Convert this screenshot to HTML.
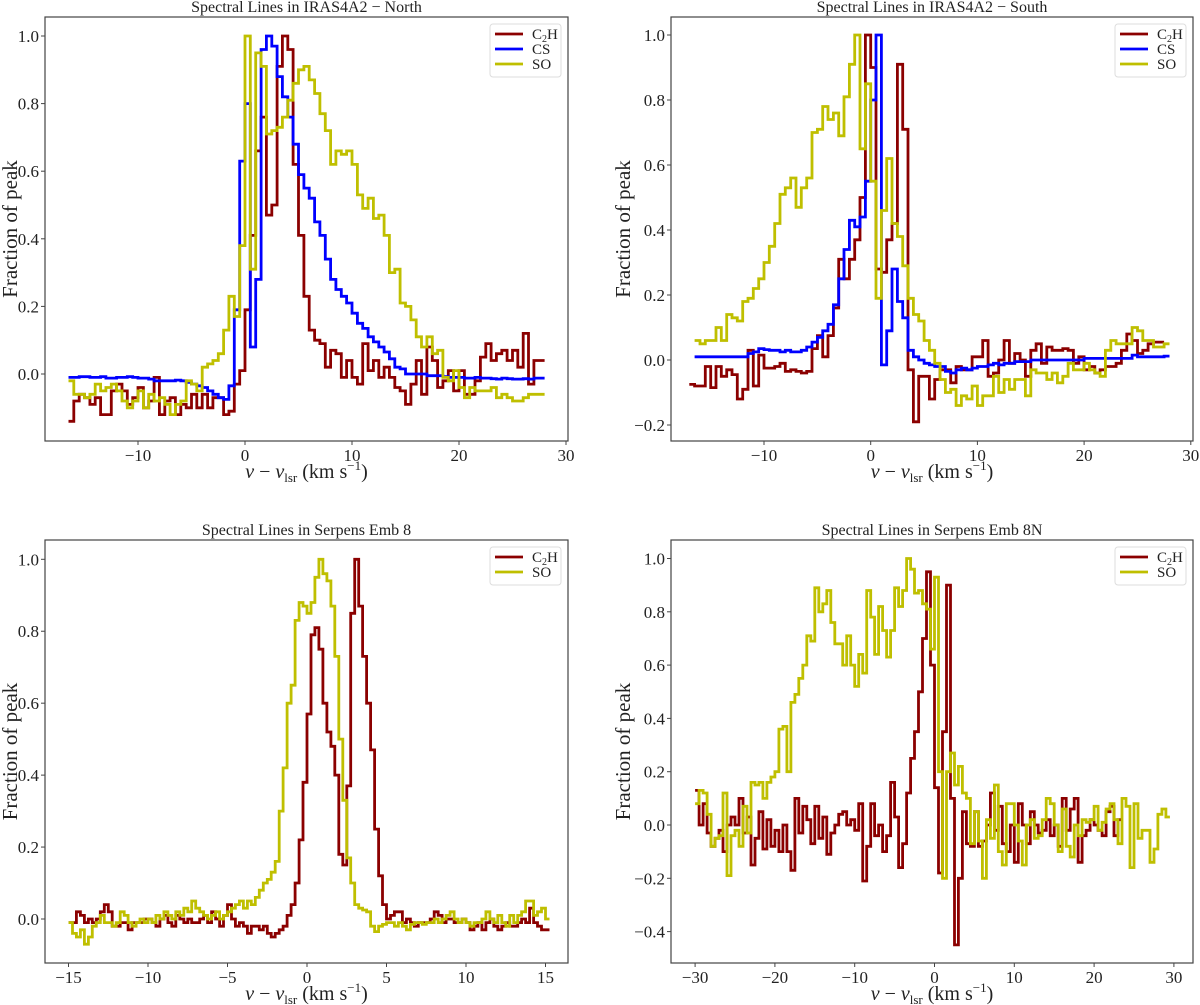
<!DOCTYPE html>
<html><head><meta charset="utf-8"><style>
html,body{margin:0;padding:0;background:#fff;}
svg{display:block;font-family:"Liberation Serif","DejaVu Serif",serif;}
</style></head>
<body>
<svg id="fig" width="1200" height="1005" viewBox="0 0 1200 1005" xmlns="http://www.w3.org/2000/svg"></svg>
<script>
// ---------- Panel 1: IRAS4A2 North (bins 0.5 km/s from -16.5) ----------
const p1C2H = [-0.14,-0.08,-0.06,-0.07,-0.09,-0.07,-0.12,-0.12,-0.05,-0.03,-0.05,-0.09,-0.07,-0.04,-0.1,-0.08,-0.01,-0.12,-0.08,-0.07,-0.12,-0.09,-0.1,-0.06,-0.1,-0.06,-0.1,-0.07,-0.07,-0.12,-0.11,-0.03,0.01,0.19,0.41,0.66,0.76,0.47,0.5,0.91,1.0,0.96,0.62,0.41,0.23,0.13,0.1,0.09,0.02,0.07,0.06,-0.01,0.04,-0.01,-0.03,0.09,0.01,0.04,-0.01,0.02,-0.01,-0.04,-0.05,-0.09,-0.03,0.04,-0.06,0.08,0.04,-0.04,-0.02,0.01,-0.05,0.01,-0.06,-0.06,-0.02,0.05,0.09,0.04,0.06,0.07,0.04,0.07,0.02,0.12,-0.03,0.04,0.04];
const p1CS = [-0.01,-0.01,-0.008,-0.008,-0.01,-0.01,-0.008,-0.012,-0.012,-0.01,-0.01,-0.008,-0.01,-0.012,-0.012,-0.015,-0.02,-0.02,-0.02,-0.02,-0.018,-0.02,-0.025,-0.03,-0.035,-0.04,-0.05,-0.06,-0.07,-0.075,-0.035,0.19,0.63,0.8,0.08,0.28,0.96,1.0,0.97,0.88,0.82,0.76,0.68,0.59,0.55,0.52,0.45,0.41,0.34,0.28,0.25,0.23,0.21,0.18,0.15,0.135,0.11,0.095,0.08,0.065,0.045,0.02,0.015,0.0,0.0,0.0,0.0,-0.005,-0.005,-0.005,-0.008,-0.01,-0.01,-0.01,-0.012,-0.012,-0.01,-0.012,-0.012,-0.014,-0.015,-0.012,-0.014,-0.015,-0.015,-0.014,-0.015,-0.012,-0.012];
const p1SO = [-0.02,-0.06,-0.06,-0.07,-0.06,-0.03,-0.05,-0.04,-0.03,-0.05,-0.08,-0.1,-0.08,-0.05,-0.1,-0.06,-0.08,-0.07,-0.09,-0.12,-0.09,-0.08,-0.02,-0.03,-0.05,0.02,0.03,0.04,0.06,0.13,0.23,0.17,0.38,1.0,0.31,0.95,0.91,0.71,0.72,0.73,0.76,0.81,0.86,0.9,0.91,0.87,0.83,0.77,0.72,0.62,0.66,0.65,0.66,0.62,0.53,0.49,0.52,0.46,0.47,0.41,0.3,0.31,0.21,0.2,0.16,0.11,0.08,0.11,0.06,0.07,-0.01,-0.02,0.01,-0.04,-0.07,-0.04,-0.05,-0.05,-0.05,-0.04,-0.07,-0.06,-0.07,-0.08,-0.08,-0.07,-0.06,-0.06,-0.06];
// ---------- Panel 2: IRAS4A2 South ----------
const p2C2H = [-0.075,-0.08,-0.08,-0.02,-0.085,-0.02,-0.05,-0.03,-0.045,-0.12,-0.09,0.03,-0.08,0.015,-0.025,-0.025,-0.02,-0.01,-0.035,-0.03,-0.035,-0.04,-0.035,0.035,0.075,0.01,0.075,0.16,0.31,0.25,0.31,0.37,0.5,1.0,0.9,0.28,0.27,0.37,0.42,0.91,0.71,-0.03,-0.19,-0.05,-0.05,-0.12,-0.06,-0.03,-0.03,-0.07,-0.02,-0.03,-0.03,0.01,0.01,0.06,-0.05,-0.04,0.0,0.06,-0.01,0.02,0.0,-0.05,0.03,0.05,-0.01,0.04,0.03,0.03,0.035,0.03,-0.01,0.01,-0.03,-0.02,-0.04,-0.03,-0.02,-0.02,-0.01,0.03,0.08,0.06,0.02,0.03,0.05,0.055,0.055];
const p2CS = [0.01,0.01,0.01,0.01,0.01,0.01,0.01,0.01,0.01,0.01,0.02,0.025,0.035,0.032,0.03,0.03,0.025,0.03,0.025,0.025,0.03,0.04,0.055,0.07,0.09,0.11,0.17,0.25,0.34,0.43,0.41,0.44,0.55,0.8,1.0,-0.015,0.09,0.28,0.18,0.13,0.03,0.01,0.0,-0.01,-0.015,-0.02,-0.02,-0.035,-0.04,-0.03,-0.025,-0.03,-0.025,-0.02,-0.02,-0.015,-0.01,-0.015,-0.01,-0.01,-0.005,-0.005,-0.005,0.0,0.0,0.0,0.0,0.0,0.0,0.0,0.0,0.0,0.0,0.005,0.005,0.005,0.005,0.005,0.005,0.005,0.005,0.005,0.015,0.01,0.01,0.01,0.01,0.01,0.012];
const p2SO = [0.06,0.05,0.06,0.06,0.1,0.06,0.14,0.13,0.12,0.18,0.19,0.22,0.25,0.3,0.35,0.42,0.51,0.53,0.56,0.47,0.53,0.56,0.7,0.71,0.78,0.74,0.76,0.69,0.81,0.91,1.0,0.65,0.85,0.55,0.19,0.46,0.62,0.42,0.38,0.29,0.19,0.14,0.12,0.06,0.03,-0.01,-0.06,-0.1,-0.09,-0.14,-0.11,-0.12,-0.08,-0.14,-0.11,-0.11,-0.05,-0.1,-0.06,-0.09,-0.06,-0.06,-0.11,-0.03,-0.04,-0.04,-0.06,-0.04,-0.07,-0.05,-0.01,-0.03,-0.03,-0.01,-0.03,-0.04,-0.05,0.03,0.06,0.05,0.05,0.05,0.1,0.09,0.06,0.06,0.04,0.04,0.05];
// ---------- Panel 3: Serpens Emb 8 (bins 0.25 km/s from -15) ----------
const p3C2H = [-0.01,-0.01,0.02,0.01,-0.01,0.0,-0.01,0.0,0.02,0.04,0.02,-0.02,-0.02,-0.01,-0.01,-0.03,-0.01,-0.01,-0.01,0.0,0.0,-0.01,-0.02,0.0,0.01,-0.01,-0.02,0.01,0.0,-0.01,0.0,-0.01,-0.01,0.0,0.01,-0.01,0.02,0.0,-0.02,0.01,0.04,0.0,-0.02,-0.01,-0.02,-0.04,-0.02,-0.02,-0.03,-0.02,-0.04,-0.05,-0.04,-0.03,-0.02,0.01,0.04,0.1,0.22,0.38,0.57,0.79,0.81,0.75,0.6,0.52,0.48,0.4,0.18,0.15,0.37,0.85,1.0,0.87,0.73,0.6,0.47,0.25,0.12,0.04,0.0,0.01,0.02,0.02,-0.01,0.0,-0.01,-0.02,-0.01,-0.01,-0.01,0.0,0.02,0.01,-0.01,0.0,0.0,-0.01,-0.01,0.0,-0.01,-0.03,-0.02,-0.01,-0.03,-0.01,0.0,-0.02,-0.03,-0.02,-0.01,-0.02,-0.02,-0.01,0.0,-0.01,0.03,-0.01,-0.02,-0.03,-0.03];
const p3SO = [-0.01,-0.04,-0.05,-0.03,-0.07,-0.05,-0.02,-0.01,0.01,-0.01,-0.01,-0.02,-0.01,0.02,0.01,-0.01,-0.02,-0.01,0.0,-0.01,0.0,-0.01,0.01,0.0,0.02,0.01,0.0,0.02,0.01,0.03,0.02,0.05,0.03,0.02,0.01,0.0,0.01,0.02,0.0,0.01,0.02,0.03,0.04,0.05,0.03,0.05,0.04,0.06,0.08,0.1,0.11,0.13,0.16,0.3,0.42,0.6,0.65,0.83,0.88,0.87,0.85,0.88,0.95,1.0,0.96,0.94,0.87,0.73,0.5,0.33,0.17,0.1,0.04,0.03,0.025,0.02,-0.02,-0.035,-0.02,-0.015,-0.01,-0.01,-0.02,-0.01,-0.02,-0.03,-0.015,-0.01,-0.01,-0.015,-0.01,-0.01,0.0,-0.01,0.0,0.01,0.02,0.0,-0.01,0.0,-0.01,-0.02,-0.01,-0.01,0.0,0.02,0.0,-0.01,0.01,-0.01,-0.02,0.01,-0.01,0.01,0.02,0.05,0.05,0.01,0.02,0.03,0.0];
// ---------- Panel 4: Serpens Emb 8N (bins 0.5 km/s from -30) ----------
const p4C2H = [0.13,0.0,0.08,-0.03,-0.08,-0.05,-0.02,-0.1,0.0,0.03,0.0,0.1,-0.03,0.03,-0.15,-0.05,0.05,-0.09,0.02,-0.08,-0.02,-0.1,0.0,-0.1,-0.17,0.1,-0.03,0.07,0.02,-0.07,0.07,-0.05,0.03,-0.11,-0.03,0.0,0.04,0.05,0.0,0.02,-0.02,0.08,-0.21,-0.08,0.08,-0.04,0.0,-0.1,-0.04,0.16,0.03,-0.16,-0.07,0.12,0.25,0.35,0.5,0.7,0.95,0.6,0.14,-0.18,0.35,0.9,0.1,-0.45,-0.2,0.05,-0.07,-0.08,0.05,-0.08,-0.06,0.0,0.12,-0.02,0.07,-0.07,-0.1,0.0,-0.14,0.08,0.0,-0.07,0.05,0.0,-0.03,-0.02,0.02,-0.04,0.0,-0.08,0.1,-0.02,0.06,0.1,-0.14,-0.04,-0.02,0.02,0.0,-0.02,-0.04,0.05,0.07,-0.04,0.02];
const p4SO = [0.08,0.13,0.12,0.04,-0.08,-0.05,-0.04,0.12,-0.19,-0.04,-0.02,-0.08,0.07,-0.03,0.16,0.15,0.16,0.1,0.16,0.18,0.2,0.36,0.37,0.2,0.46,0.49,0.55,0.6,0.71,0.69,0.89,0.8,0.83,0.88,0.76,0.68,0.68,0.6,0.71,0.6,0.52,0.64,0.57,0.88,0.78,0.64,0.82,0.73,0.63,0.73,0.89,0.82,0.88,1.0,0.96,0.87,0.88,0.83,0.81,0.66,0.93,0.2,-0.2,0.2,0.27,0.15,0.22,0.12,0.1,-0.07,0.05,-0.06,-0.2,0.02,-0.05,0.15,-0.1,-0.15,0.08,0.08,0.0,-0.06,-0.15,0.0,0.02,-0.05,-0.04,0.02,0.1,0.08,0.0,-0.1,0.06,-0.08,-0.12,0.0,-0.04,0.02,0.01,0.02,0.07,-0.02,0.01,0.06,0.08,0.02,-0.07,0.1,0.07,-0.16,0.08,-0.05,-0.02,-0.02,-0.14,-0.09,0.04,0.06,0.03];

const p1Xticks=[-10,0,10,20,30], p1Yticks=[0,0.2,0.4,0.6,0.8,1.0];
const p2Xticks=[-10,0,10,20,30], p2Yticks=[-0.2,0,0.2,0.4,0.6,0.8,1.0];
const p3Xticks=[-15,-10,-5,0,5,10,15], p3Yticks=[0,0.2,0.4,0.6,0.8,1.0];
const p4Xticks=[-30,-20,-10,0,10,20,30], p4Yticks=[-0.4,-0.2,0,0.2,0.4,0.6,0.8,1.0];

const NS="http://www.w3.org/2000/svg";
const svg=document.getElementById('fig');
function mk(tag,attrs,parent){const e=document.createElementNS(NS,tag);for(const k in attrs)e.setAttribute(k,attrs[k]);(parent||svg).appendChild(e);return e;}
const COL={C2H:'#8b0000',CS:'#0000ff',SO:'#bfbf00'};
function fmtY(v){const s=Math.abs(v).toFixed(1);return (v<-1e-9?'\u2212':'')+s;}
function fmtX(v){return (v<0?'\u2212':'')+Math.abs(v);}

function panel(cfg){
  const g=mk('g',{});
  
  
  const xs=v=>cfg.x0+cfg.xs*v, ys=f=>cfg.y0-cfg.ys*f;
  const cid='clip-'+cfg.name;
  const cp=mk('clipPath',{id:cid},g);
  mk('rect',{x:cfg.L,y:cfg.T,width:cfg.R-cfg.L,height:cfg.B-cfg.T},cp);
  cfg.series.forEach(s=>{
    let d='';
    s.vals.forEach((f,i)=>{
      const xa=xs(s.v0+i*s.dv), xb=xs(s.v0+(i+1)*s.dv), y=ys(f);
      d+=(i===0?'M':'L')+xa.toFixed(1)+','+y.toFixed(1)+'L'+xb.toFixed(1)+','+y.toFixed(1);
    });
    const p=mk('path',{d:d,fill:'none',stroke:COL[s.key],'stroke-width':2.8,'stroke-linejoin':'miter','clip-path':'url(#'+cid+')'},g);
    
    
  });
  const fr=mk('rect',{x:cfg.L,y:cfg.T,width:cfg.R-cfg.L,height:cfg.B-cfg.T,fill:'none',stroke:'#444','stroke-width':1.2},g);
  
  
  cfg.xticks.forEach(t=>{
    const x=xs(t);
    mk('line',{x1:x,x2:x,y1:cfg.B,y2:cfg.B+4,stroke:'#444','stroke-width':1},g);
    const tx=mk('text',{x:x,y:cfg.B+20,'text-anchor':'middle','font-size':17,fill:'#222'},g);
    tx.textContent=fmtX(t);
    
    
  });
  cfg.yticks.forEach(t=>{
    const y=ys(t);
    mk('line',{x1:cfg.L-4,x2:cfg.L,y1:y,y2:y,stroke:'#444','stroke-width':1},g);
    const tx=mk('text',{x:cfg.L-6,y:y+6,'text-anchor':'end','font-size':17,fill:'#222'},g);
    tx.textContent=fmtY(t);
    
    
  });
  const ti=mk('text',{x:(cfg.L+cfg.R)/2,y:cfg.T-5,'text-anchor':'middle','font-size':16,fill:'#222'},g);
  ti.textContent=cfg.title;
  
  
  const yl=mk('text',{x:0,y:0,'text-anchor':'middle','font-size':21,fill:'#222',transform:'translate('+(cfg.ylx)+','+((cfg.T+cfg.B)/2)+') rotate(-90)'},g);
  yl.textContent='Fraction of peak';
  
  
  const xl=mk('text',{x:(cfg.L+cfg.R)/2,y:cfg.B+37,'text-anchor':'middle','font-size':20,fill:'#222'},g);
  xl.innerHTML='<tspan font-style="italic">v</tspan> \u2212 <tspan font-style="italic">v</tspan><tspan font-size="13" dy="4">lsr</tspan><tspan dy="-4"> (km s</tspan><tspan font-size="13" dy="-8">\u22121</tspan><tspan dy="8">)</tspan>';
  
  
  const n=cfg.series.length;
  const lg=mk('g',{},g);
  
  
  const lx=cfg.R-78, ly=cfg.T+7;
  mk('rect',{x:lx,y:ly,width:71,height:15*n+8,rx:3,fill:'#fff',stroke:'#ddd','stroke-width':1},lg);
  cfg.series.forEach((s,i)=>{
    const y=ly+10+15*i;
    const e=mk('g',{},lg);
    
    
    mk('line',{x1:lx+5,x2:lx+33,y1:y,y2:y,stroke:COL[s.key],'stroke-width':2.8},e);
    const t=mk('text',{x:lx+42,y:y+5,'font-size':15,fill:'#222'},e);
    if(s.key==='C2H') t.innerHTML='C<tspan font-size="10" dy="3">2</tspan><tspan dy="-3">H</tspan>';
    else t.textContent=s.key;
  });
}

panel({name:'panel-iras4a2-north',title:'Spectral Lines in IRAS4A2 \u2212 North',L:45,R:568,T:17,B:441,x0:245,xs:10.7,y0:374,ys:338,ylx:17,
  xticks:p1Xticks,yticks:p1Yticks,
  series:[{key:'C2H',v0:-16.5,dv:0.5,vals:p1C2H},{key:'CS',v0:-16.5,dv:0.5,vals:p1CS},{key:'SO',v0:-16.5,dv:0.5,vals:p1SO}]});
panel({name:'panel-iras4a2-south',title:'Spectral Lines in IRAS4A2 \u2212 South',L:671,R:1193,T:17,B:441,x0:870.7,xs:10.67,y0:360,ys:325,ylx:630,
  xticks:p2Xticks,yticks:p2Yticks,
  series:[{key:'C2H',v0:-17,dv:0.5,vals:p2C2H},{key:'CS',v0:-16.5,dv:0.5,vals:p2CS},{key:'SO',v0:-16.5,dv:0.5,vals:p2SO}]});
panel({name:'panel-serpens-emb8',title:'Spectral Lines in Serpens Emb 8',L:45,R:568,T:540,B:963,x0:307,xs:15.9,y0:919,ys:359.7,ylx:17,
  xticks:p3Xticks,yticks:p3Yticks,
  series:[{key:'C2H',v0:-15,dv:0.25,vals:p3C2H},{key:'SO',v0:-15,dv:0.25,vals:p3SO}]});
panel({name:'panel-serpens-emb8n',title:'Spectral Lines in Serpens Emb 8N',L:671,R:1193,T:540,B:963,x0:934.5,xs:7.98,y0:825,ys:266.5,ylx:630,
  xticks:p4Xticks,yticks:p4Yticks,
  series:[{key:'C2H',v0:-30,dv:0.5,vals:p4C2H},{key:'SO',v0:-30,dv:0.5,vals:p4SO}]});
</script>
</body></html>
